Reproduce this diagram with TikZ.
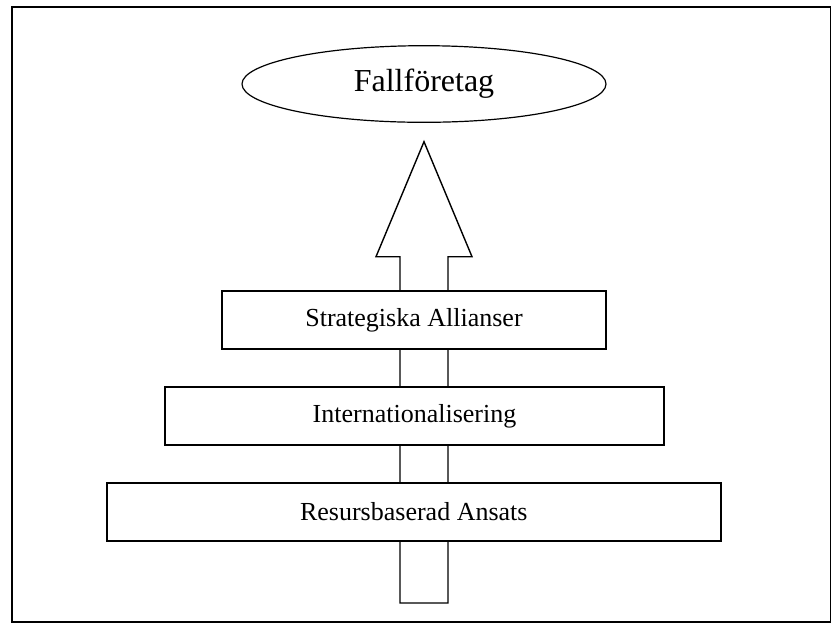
\documentclass[tikz,border=0pt]{standalone}
\usepackage{fontspec}
\setmainfont{Liberation Serif}
\usetikzlibrary{shapes.geometric}

\begin{document}
\begin{tikzpicture}[x=0.5pt,y=-0.5pt,
        level/.style={draw,fill=white,line width=0.75pt,minimum height=29pt,inner sep=0pt,font=\fontsize{13}{15}\selectfont},
        goal/.style={draw,ellipse,line width=0.6pt,minimum width=182pt,minimum height=38.3pt,inner sep=0pt,font=\fontsize{16}{19}\selectfont}]
        \useasboundingbox (0,0) rectangle (831,623);
        \draw[line width=1pt] (11.5,6.7) rectangle (830.5,621.5);
        \coordinate (foot) at (424,603);
        \coordinate (tip) at (424,141.7);
        \draw[line width=0.7pt,fill=white] (foot) ++(-24,0) -- ++(0,-346.3) -- ++(-24,0) -- (tip) -- ++(48,115) -- ++(-24,0) -- ++(0,346.3) -- cycle;
        \node[goal] (fall) at (424,84) {Fallföretag};
        \node[level,minimum width=192pt] (strat) at (414,320) {Strategiska Allianser};
        \node[level,minimum width=249.5pt] (inter) at (414.5,416) {Internationalisering};
        \node[level,minimum width=307pt] (resurs) at (413.8,512) {Resursbaserad Ansats};
    \end{tikzpicture}
\end{document}
